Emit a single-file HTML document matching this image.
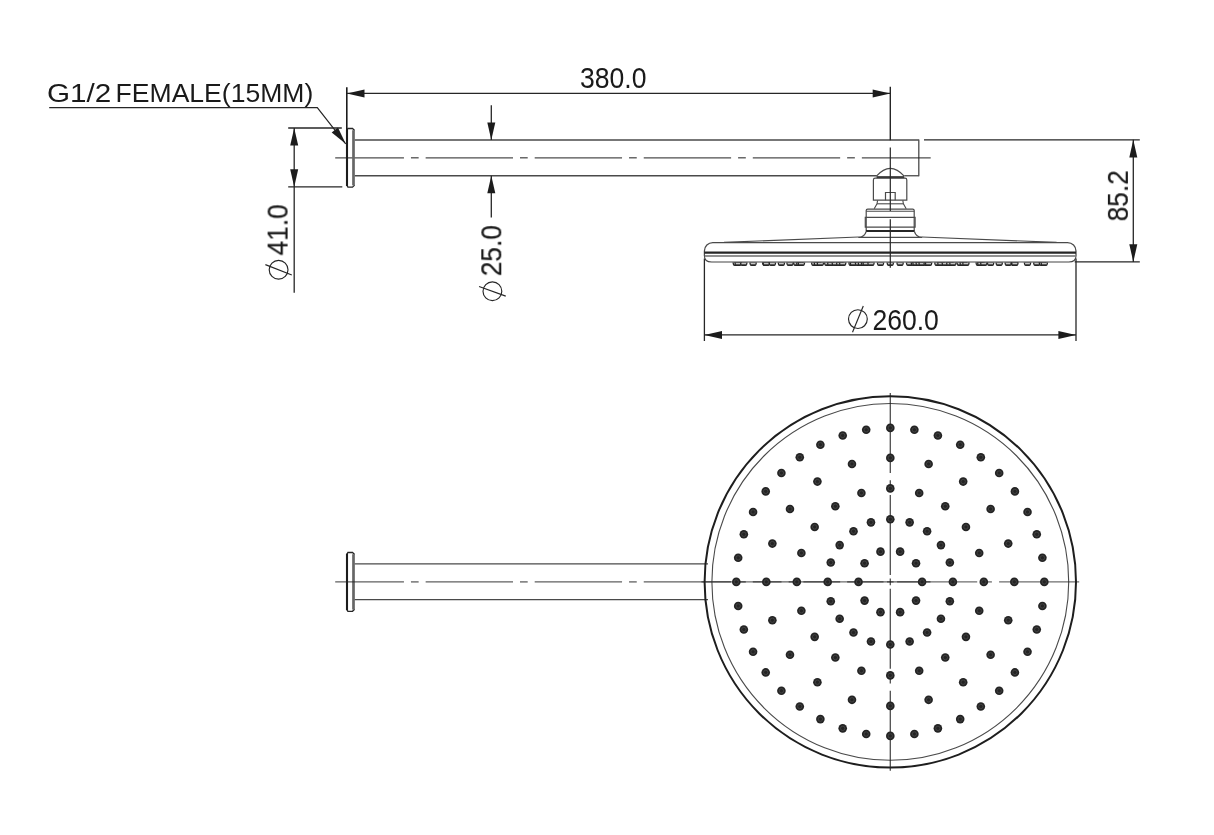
<!DOCTYPE html>
<html lang="en"><head><meta charset="utf-8"><title>Shower arm and head dimensions</title>
<style>
html,body{margin:0;padding:0;background:#fff;}
body{width:1214px;height:835px;overflow:hidden;}
svg{display:block;}
text{font-family:"Liberation Sans",sans-serif;fill:#1a1a1a;}
</style></head><body>
<svg width="1214" height="835" viewBox="0 0 1214 835">
<rect width="1214" height="835" fill="#fff"/>
<line x1="354.60" y1="140.00" x2="918.80" y2="140.00" stroke="#4a4a4a" stroke-width="1.3" />
<line x1="354.60" y1="175.75" x2="876.70" y2="175.75" stroke="#4a4a4a" stroke-width="1.3" />
<line x1="904.30" y1="175.75" x2="918.80" y2="175.75" stroke="#4a4a4a" stroke-width="1.3" />
<line x1="918.80" y1="139.40" x2="918.80" y2="176.35" stroke="#4a4a4a" stroke-width="1.3" />
<line x1="335.20" y1="157.80" x2="403.95" y2="157.80" stroke="#222" stroke-width="1.3" stroke-opacity="0.8"/>
<line x1="410.95" y1="157.80" x2="418.65" y2="157.80" stroke="#222" stroke-width="1.3" stroke-opacity="0.8"/>
<line x1="425.65" y1="157.80" x2="513.00" y2="157.80" stroke="#222" stroke-width="1.3" stroke-opacity="0.8"/>
<line x1="520.00" y1="157.80" x2="527.70" y2="157.80" stroke="#222" stroke-width="1.3" stroke-opacity="0.8"/>
<line x1="534.70" y1="157.80" x2="622.05" y2="157.80" stroke="#222" stroke-width="1.3" stroke-opacity="0.8"/>
<line x1="629.05" y1="157.80" x2="636.75" y2="157.80" stroke="#222" stroke-width="1.3" stroke-opacity="0.8"/>
<line x1="643.75" y1="157.80" x2="731.10" y2="157.80" stroke="#222" stroke-width="1.3" stroke-opacity="0.8"/>
<line x1="738.10" y1="157.80" x2="745.80" y2="157.80" stroke="#222" stroke-width="1.3" stroke-opacity="0.8"/>
<line x1="752.80" y1="157.80" x2="840.15" y2="157.80" stroke="#222" stroke-width="1.3" stroke-opacity="0.8"/>
<line x1="847.15" y1="157.80" x2="854.85" y2="157.80" stroke="#222" stroke-width="1.3" stroke-opacity="0.8"/>
<line x1="861.85" y1="157.80" x2="930.70" y2="157.80" stroke="#222" stroke-width="1.3" stroke-opacity="0.8"/>
<path d="M347.0,130.2 L347.9,128.5 H352.5 L354.6,130.5 M347.0,185.4 L347.9,187.1 H352.5 L354.6,185.1" stroke="#262626" stroke-width="1.3" fill="none" />
<line x1="347.00" y1="129.60" x2="347.00" y2="186.00" stroke="#1c1c1c" stroke-width="2.1" />
<line x1="353.50" y1="130.20" x2="353.50" y2="185.40" stroke="#666" stroke-width="2.7" />
<line x1="346.80" y1="87.20" x2="346.80" y2="130.00" stroke="#1c1c1c" stroke-width="1.6" />
<line x1="890.30" y1="86.80" x2="890.30" y2="140.20" stroke="#262626" stroke-width="1.4" />
<line x1="346.90" y1="93.40" x2="890.30" y2="93.40" stroke="#262626" stroke-width="1.35" />
<polygon points="346.90,93.40 364.50,89.40 364.50,97.40" fill="#1c1c1c"/>
<polygon points="890.30,93.40 872.70,97.40 872.70,89.40" fill="#1c1c1c"/>
<path d="M49.2,107.7 H317.3 L345.7,143.8" stroke="#262626" stroke-width="1.2" fill="none" />
<polygon points="345.70,143.80 331.67,132.44 337.96,127.49" fill="#1c1c1c"/>
<line x1="288.20" y1="128.00" x2="341.80" y2="128.00" stroke="#262626" stroke-width="1.3" />
<line x1="288.20" y1="186.90" x2="342.30" y2="186.90" stroke="#262626" stroke-width="1.3" />
<line x1="294.20" y1="128.00" x2="294.20" y2="292.80" stroke="#262626" stroke-width="1.3" />
<polygon points="294.20,128.00 298.20,145.60 290.20,145.60" fill="#1c1c1c"/>
<polygon points="294.20,186.90 290.20,169.30 298.20,169.30" fill="#1c1c1c"/>
<circle cx="278.60" cy="269.80" r="9.40" fill="none" stroke="#262626" stroke-width="1.15"/>
<line x1="265.38" y1="264.62" x2="291.82" y2="274.98" stroke="#262626" stroke-width="1.15" />
<line x1="491.30" y1="105.30" x2="491.30" y2="140.00" stroke="#262626" stroke-width="1.3" />
<line x1="491.30" y1="175.75" x2="491.30" y2="217.60" stroke="#262626" stroke-width="1.3" />
<polygon points="491.30,140.00 487.30,122.40 495.30,122.40" fill="#1c1c1c"/>
<polygon points="491.30,175.75 495.30,193.35 487.30,193.35" fill="#1c1c1c"/>
<circle cx="492.40" cy="291.30" r="9.40" fill="none" stroke="#262626" stroke-width="1.15"/>
<line x1="479.06" y1="286.44" x2="505.74" y2="296.16" stroke="#262626" stroke-width="1.15" />
<line x1="924.00" y1="139.80" x2="1139.80" y2="139.80" stroke="#262626" stroke-width="1.3" />
<line x1="1074.70" y1="261.90" x2="1139.80" y2="261.90" stroke="#262626" stroke-width="1.3" />
<line x1="1133.30" y1="139.80" x2="1133.30" y2="261.90" stroke="#262626" stroke-width="1.3" />
<polygon points="1133.30,139.80 1137.30,157.40 1129.30,157.40" fill="#1c1c1c"/>
<polygon points="1133.30,261.90 1129.30,244.30 1137.30,244.30" fill="#1c1c1c"/>
<line x1="704.40" y1="258.60" x2="704.40" y2="341.00" stroke="#262626" stroke-width="1.3" />
<line x1="1076.00" y1="258.60" x2="1076.00" y2="341.00" stroke="#262626" stroke-width="1.3" />
<line x1="704.40" y1="334.90" x2="1076.00" y2="334.90" stroke="#262626" stroke-width="1.4" />
<polygon points="704.40,334.90 722.00,330.90 722.00,338.90" fill="#1c1c1c"/>
<polygon points="1076.00,334.90 1058.40,338.90 1058.40,330.90" fill="#1c1c1c"/>
<circle cx="857.90" cy="319.10" r="9.40" fill="none" stroke="#262626" stroke-width="1.15"/>
<line x1="852.51" y1="332.24" x2="863.29" y2="305.96" stroke="#262626" stroke-width="1.15" />
<path d="M876.4,176.2 Q890.3,160.6 904.2,176.2" stroke="#4a4a4a" stroke-width="1.2" fill="none" />
<line x1="876.60" y1="177.20" x2="904.20" y2="177.20" stroke="#262626" stroke-width="2.0" />
<path d="M873.4,200.2 V180.0 Q873.4,178.2 875.2,178.2 H905.0 Q906.8,178.2 906.8,180.0 V200.2 Z" stroke="#4a4a4a" stroke-width="1.2" fill="none" />
<path d="M885.5,200.2 V192.5 H895.2 V200.2" stroke="#4a4a4a" stroke-width="1.2" fill="none" />
<path d="M877.6,200.4 L877.0,203.8 L874.2,208.8" stroke="#4a4a4a" stroke-width="1.1" fill="none" />
<path d="M902.8,200.4 L903.4,203.8 L906.2,208.8" stroke="#4a4a4a" stroke-width="1.1" fill="none" />
<line x1="877.00" y1="203.80" x2="903.40" y2="203.80" stroke="#4a4a4a" stroke-width="1.1" />
<path d="M866.2,231.0 V210.6 Q866.2,209.1 867.7,209.1 H912.7 Q914.2,209.1 914.2,210.6 V231.0" stroke="#4a4a4a" stroke-width="1.2" fill="none" />
<line x1="866.20" y1="211.20" x2="914.20" y2="211.20" stroke="#4a4a4a" stroke-width="1.1" />
<path d="M865.3,227.2 V217.4 H915.1 V227.2 Z" stroke="#4a4a4a" stroke-width="1.2" fill="none" />
<line x1="866.00" y1="231.00" x2="914.40" y2="231.00" stroke="#262626" stroke-width="2.2" />
<path d="M866.3,231.2 Q864.4,237.4 858.4,237.4" stroke="#4a4a4a" stroke-width="1.2" fill="none" />
<path d="M914.3,231.2 Q916.2,237.4 922.2,237.4" stroke="#4a4a4a" stroke-width="1.2" fill="none" />
<line x1="858.60" y1="237.40" x2="922.00" y2="237.40" stroke="#4a4a4a" stroke-width="1.1" />
<path d="M858.6,237.0 L724.0,242.4" stroke="#4a4a4a" stroke-width="1.15" fill="none" />
<path d="M922.0,237.0 L1056.6,242.4" stroke="#4a4a4a" stroke-width="1.15" fill="none" />
<path d="M704.4,256.0 V250.9 A8.4,8.4 0 0 1 712.8,242.5 H1067.6 A8.4,8.4 0 0 1 1076.0,250.9 V256.0" stroke="#4a4a4a" stroke-width="1.25" fill="none" />
<path d="M704.4,256.0 Q704.4,262.0 711.6,262.0 H1068.8 Q1076.0,262.0 1076.0,256.0" stroke="#444" stroke-width="1.1" fill="none" />
<line x1="704.40" y1="252.70" x2="1076.00" y2="252.70" stroke="#262626" stroke-width="2.2" />
<line x1="704.80" y1="256.00" x2="1075.60" y2="256.00" stroke="#6e6e6e" stroke-width="1.4" />
<path d="M732.4,262.4 L732.9,264.6 Q733.3,266.1 734.7,266.1 H737.9 Q739.3,266.1 739.7,264.6 L740.2,262.4 Z" fill="#262626"/><path d="M733.9,262.9 H738.7 V264.3 H733.9 Z" fill="#c6c6c6"/>
<path d="M734.3,262.4 L734.8,264.6 Q735.2,266.1 736.6,266.1 H739.8 Q741.2,266.1 741.6,264.6 L742.1,262.4 Z" fill="#262626"/><path d="M735.8,262.9 H740.6 V264.3 H735.8 Z" fill="#c6c6c6"/>
<path d="M739.9,262.4 L740.4,264.6 Q740.8,266.1 742.2,266.1 H745.4 Q746.8,266.1 747.2,264.6 L747.7,262.4 Z" fill="#262626"/><path d="M741.4,262.9 H746.2 V264.3 H741.4 Z" fill="#c6c6c6"/>
<path d="M749.2,262.4 L749.7,264.6 Q750.1,266.1 751.5,266.1 H754.7 Q756.1,266.1 756.5,264.6 L757.0,262.4 Z" fill="#262626"/><path d="M750.7,262.9 H755.5 V264.3 H750.7 Z" fill="#c6c6c6"/>
<path d="M761.8,262.4 L762.3,264.6 Q762.7,266.1 764.1,266.1 H767.3 Q768.7,266.1 769.1,264.6 L769.6,262.4 Z" fill="#262626"/><path d="M763.3,262.9 H768.1 V264.3 H763.3 Z" fill="#c6c6c6"/>
<path d="M762.4,262.4 L762.9,264.6 Q763.3,266.1 764.7,266.1 H767.9 Q769.3,266.1 769.7,264.6 L770.2,262.4 Z" fill="#262626"/><path d="M763.9,262.9 H768.7 V264.3 H763.9 Z" fill="#c6c6c6"/>
<path d="M768.5,262.4 L769.0,264.6 Q769.4,266.1 770.8,266.1 H774.0 Q775.4,266.1 775.8,264.6 L776.3,262.4 Z" fill="#262626"/><path d="M770.0,262.9 H774.8 V264.3 H770.0 Z" fill="#c6c6c6"/>
<path d="M777.5,262.4 L778.0,264.6 Q778.4,266.1 779.8,266.1 H783.0 Q784.4,266.1 784.8,264.6 L785.3,262.4 Z" fill="#262626"/><path d="M779.0,262.9 H783.8 V264.3 H779.0 Z" fill="#c6c6c6"/>
<path d="M786.1,262.4 L786.6,264.6 Q787.0,266.1 788.4,266.1 H791.6 Q793.0,266.1 793.4,264.6 L793.9,262.4 Z" fill="#262626"/><path d="M787.6,262.9 H792.4 V264.3 H787.6 Z" fill="#c6c6c6"/>
<path d="M792.9,262.4 L793.4,264.6 Q793.8,266.1 795.2,266.1 H798.4 Q799.8,266.1 800.2,264.6 L800.7,262.4 Z" fill="#262626"/><path d="M794.4,262.9 H799.2 V264.3 H794.4 Z" fill="#c6c6c6"/>
<path d="M795.9,262.4 L796.4,264.6 Q796.8,266.1 798.2,266.1 H801.4 Q802.8,266.1 803.2,264.6 L803.7,262.4 Z" fill="#262626"/><path d="M797.4,262.9 H802.2 V264.3 H797.4 Z" fill="#c6c6c6"/>
<path d="M797.5,262.4 L798.0,264.6 Q798.4,266.1 799.8,266.1 H803.0 Q804.4,266.1 804.8,264.6 L805.3,262.4 Z" fill="#262626"/><path d="M799.0,262.9 H803.8 V264.3 H799.0 Z" fill="#c6c6c6"/>
<path d="M810.8,262.4 L811.3,264.6 Q811.7,266.1 813.1,266.1 H816.3 Q817.7,266.1 818.1,264.6 L818.6,262.4 Z" fill="#262626"/><path d="M812.3,262.9 H817.1 V264.3 H812.3 Z" fill="#c6c6c6"/>
<path d="M813.5,262.4 L814.0,264.6 Q814.4,266.1 815.8,266.1 H819.0 Q820.4,266.1 820.8,264.6 L821.3,262.4 Z" fill="#262626"/><path d="M815.0,262.9 H819.8 V264.3 H815.0 Z" fill="#c6c6c6"/>
<path d="M816.5,262.4 L817.0,264.6 Q817.4,266.1 818.8,266.1 H822.0 Q823.4,266.1 823.8,264.6 L824.3,262.4 Z" fill="#262626"/><path d="M818.0,262.9 H822.8 V264.3 H818.0 Z" fill="#c6c6c6"/>
<path d="M823.8,262.4 L824.3,264.6 Q824.7,266.1 826.1,266.1 H829.3 Q830.7,266.1 831.1,264.6 L831.6,262.4 Z" fill="#262626"/><path d="M825.3,262.9 H830.1 V264.3 H825.3 Z" fill="#c6c6c6"/>
<path d="M826.9,262.4 L827.4,264.6 Q827.8,266.1 829.2,266.1 H832.4 Q833.8,266.1 834.2,264.6 L834.7,262.4 Z" fill="#262626"/><path d="M828.4,262.9 H833.2 V264.3 H828.4 Z" fill="#c6c6c6"/>
<path d="M831.4,262.4 L831.9,264.6 Q832.3,266.1 833.7,266.1 H836.9 Q838.3,266.1 838.7,264.6 L839.2,262.4 Z" fill="#262626"/><path d="M832.9,262.9 H837.7 V264.3 H832.9 Z" fill="#c6c6c6"/>
<path d="M835.8,262.4 L836.3,264.6 Q836.7,266.1 838.1,266.1 H841.3 Q842.7,266.1 843.1,264.6 L843.6,262.4 Z" fill="#262626"/><path d="M837.3,262.9 H842.1 V264.3 H837.3 Z" fill="#c6c6c6"/>
<path d="M838.8,262.4 L839.3,264.6 Q839.7,266.1 841.1,266.1 H844.3 Q845.7,266.1 846.1,264.6 L846.6,262.4 Z" fill="#262626"/><path d="M840.3,262.9 H845.1 V264.3 H840.3 Z" fill="#c6c6c6"/>
<path d="M848.1,262.4 L848.6,264.6 Q849.0,266.1 850.4,266.1 H853.6 Q855.0,266.1 855.4,264.6 L855.9,262.4 Z" fill="#262626"/><path d="M849.6,262.9 H854.4 V264.3 H849.6 Z" fill="#c6c6c6"/>
<path d="M849.6,262.4 L850.1,264.6 Q850.5,266.1 851.9,266.1 H855.1 Q856.5,266.1 856.9,264.6 L857.4,262.4 Z" fill="#262626"/><path d="M851.1,262.9 H855.9 V264.3 H851.1 Z" fill="#c6c6c6"/>
<path d="M854.6,262.4 L855.1,264.6 Q855.5,266.1 856.9,266.1 H860.1 Q861.5,266.1 861.9,264.6 L862.4,262.4 Z" fill="#262626"/><path d="M856.1,262.9 H860.9 V264.3 H856.1 Z" fill="#c6c6c6"/>
<path d="M857.5,262.4 L858.0,264.6 Q858.4,266.1 859.8,266.1 H863.0 Q864.4,266.1 864.8,264.6 L865.3,262.4 Z" fill="#262626"/><path d="M859.0,262.9 H863.8 V264.3 H859.0 Z" fill="#c6c6c6"/>
<path d="M860.7,262.4 L861.2,264.6 Q861.6,266.1 863.0,266.1 H866.2 Q867.6,266.1 868.0,264.6 L868.5,262.4 Z" fill="#262626"/><path d="M862.2,262.9 H867.0 V264.3 H862.2 Z" fill="#c6c6c6"/>
<path d="M862.3,262.4 L862.8,264.6 Q863.2,266.1 864.6,266.1 H867.8 Q869.2,266.1 869.6,264.6 L870.1,262.4 Z" fill="#262626"/><path d="M863.8,262.9 H868.6 V264.3 H863.8 Z" fill="#c6c6c6"/>
<path d="M867.1,262.4 L867.6,264.6 Q868.0,266.1 869.4,266.1 H872.6 Q874.0,266.1 874.4,264.6 L874.9,262.4 Z" fill="#262626"/><path d="M868.6,262.9 H873.4 V264.3 H868.6 Z" fill="#c6c6c6"/>
<path d="M876.6,262.4 L877.1,264.6 Q877.5,266.1 878.9,266.1 H882.1 Q883.5,266.1 883.9,264.6 L884.4,262.4 Z" fill="#262626"/><path d="M878.1,262.9 H882.9 V264.3 H878.1 Z" fill="#c6c6c6"/>
<path d="M886.4,262.4 L886.9,264.6 Q887.3,266.1 888.7,266.1 H891.9 Q893.3,266.1 893.7,264.6 L894.2,262.4 Z" fill="#262626"/><path d="M887.9,262.9 H892.7 V264.3 H887.9 Z" fill="#c6c6c6"/>
<path d="M896.2,262.4 L896.7,264.6 Q897.1,266.1 898.5,266.1 H901.7 Q903.1,266.1 903.5,264.6 L904.0,262.4 Z" fill="#262626"/><path d="M897.7,262.9 H902.5 V264.3 H897.7 Z" fill="#c6c6c6"/>
<path d="M905.7,262.4 L906.2,264.6 Q906.6,266.1 908.0,266.1 H911.2 Q912.6,266.1 913.0,264.6 L913.5,262.4 Z" fill="#262626"/><path d="M907.2,262.9 H912.0 V264.3 H907.2 Z" fill="#c6c6c6"/>
<path d="M910.5,262.4 L911.0,264.6 Q911.4,266.1 912.8,266.1 H916.0 Q917.4,266.1 917.8,264.6 L918.3,262.4 Z" fill="#262626"/><path d="M912.0,262.9 H916.8 V264.3 H912.0 Z" fill="#c6c6c6"/>
<path d="M912.1,262.4 L912.6,264.6 Q913.0,266.1 914.4,266.1 H917.6 Q919.0,266.1 919.4,264.6 L919.9,262.4 Z" fill="#262626"/><path d="M913.6,262.9 H918.4 V264.3 H913.6 Z" fill="#c6c6c6"/>
<path d="M915.3,262.4 L915.8,264.6 Q916.2,266.1 917.6,266.1 H920.8 Q922.2,266.1 922.6,264.6 L923.1,262.4 Z" fill="#262626"/><path d="M916.8,262.9 H921.6 V264.3 H916.8 Z" fill="#c6c6c6"/>
<path d="M918.2,262.4 L918.7,264.6 Q919.1,266.1 920.5,266.1 H923.7 Q925.1,266.1 925.5,264.6 L926.0,262.4 Z" fill="#262626"/><path d="M919.7,262.9 H924.5 V264.3 H919.7 Z" fill="#c6c6c6"/>
<path d="M923.2,262.4 L923.7,264.6 Q924.1,266.1 925.5,266.1 H928.7 Q930.1,266.1 930.5,264.6 L931.0,262.4 Z" fill="#262626"/><path d="M924.7,262.9 H929.5 V264.3 H924.7 Z" fill="#c6c6c6"/>
<path d="M924.7,262.4 L925.2,264.6 Q925.6,266.1 927.0,266.1 H930.2 Q931.6,266.1 932.0,264.6 L932.5,262.4 Z" fill="#262626"/><path d="M926.2,262.9 H931.0 V264.3 H926.2 Z" fill="#c6c6c6"/>
<path d="M934.0,262.4 L934.5,264.6 Q934.9,266.1 936.3,266.1 H939.5 Q940.9,266.1 941.3,264.6 L941.8,262.4 Z" fill="#262626"/><path d="M935.5,262.9 H940.3 V264.3 H935.5 Z" fill="#c6c6c6"/>
<path d="M937.0,262.4 L937.5,264.6 Q937.9,266.1 939.3,266.1 H942.5 Q943.9,266.1 944.3,264.6 L944.8,262.4 Z" fill="#262626"/><path d="M938.5,262.9 H943.3 V264.3 H938.5 Z" fill="#c6c6c6"/>
<path d="M941.4,262.4 L941.9,264.6 Q942.3,266.1 943.7,266.1 H946.9 Q948.3,266.1 948.7,264.6 L949.2,262.4 Z" fill="#262626"/><path d="M942.9,262.9 H947.7 V264.3 H942.9 Z" fill="#c6c6c6"/>
<path d="M945.9,262.4 L946.4,264.6 Q946.8,266.1 948.2,266.1 H951.4 Q952.8,266.1 953.2,264.6 L953.7,262.4 Z" fill="#262626"/><path d="M947.4,262.9 H952.2 V264.3 H947.4 Z" fill="#c6c6c6"/>
<path d="M949.0,262.4 L949.5,264.6 Q949.9,266.1 951.3,266.1 H954.5 Q955.9,266.1 956.3,264.6 L956.8,262.4 Z" fill="#262626"/><path d="M950.5,262.9 H955.3 V264.3 H950.5 Z" fill="#c6c6c6"/>
<path d="M956.3,262.4 L956.8,264.6 Q957.2,266.1 958.6,266.1 H961.8 Q963.2,266.1 963.6,264.6 L964.1,262.4 Z" fill="#262626"/><path d="M957.8,262.9 H962.6 V264.3 H957.8 Z" fill="#c6c6c6"/>
<path d="M959.3,262.4 L959.8,264.6 Q960.2,266.1 961.6,266.1 H964.8 Q966.2,266.1 966.6,264.6 L967.1,262.4 Z" fill="#262626"/><path d="M960.8,262.9 H965.6 V264.3 H960.8 Z" fill="#c6c6c6"/>
<path d="M962.0,262.4 L962.5,264.6 Q962.9,266.1 964.3,266.1 H967.5 Q968.9,266.1 969.3,264.6 L969.8,262.4 Z" fill="#262626"/><path d="M963.5,262.9 H968.3 V264.3 H963.5 Z" fill="#c6c6c6"/>
<path d="M975.3,262.4 L975.8,264.6 Q976.2,266.1 977.6,266.1 H980.8 Q982.2,266.1 982.6,264.6 L983.1,262.4 Z" fill="#262626"/><path d="M976.8,262.9 H981.6 V264.3 H976.8 Z" fill="#c6c6c6"/>
<path d="M976.9,262.4 L977.4,264.6 Q977.8,266.1 979.2,266.1 H982.4 Q983.8,266.1 984.2,264.6 L984.7,262.4 Z" fill="#262626"/><path d="M978.4,262.9 H983.2 V264.3 H978.4 Z" fill="#c6c6c6"/>
<path d="M979.9,262.4 L980.4,264.6 Q980.8,266.1 982.2,266.1 H985.4 Q986.8,266.1 987.2,264.6 L987.7,262.4 Z" fill="#262626"/><path d="M981.4,262.9 H986.2 V264.3 H981.4 Z" fill="#c6c6c6"/>
<path d="M986.7,262.4 L987.2,264.6 Q987.6,266.1 989.0,266.1 H992.2 Q993.6,266.1 994.0,264.6 L994.5,262.4 Z" fill="#262626"/><path d="M988.2,262.9 H993.0 V264.3 H988.2 Z" fill="#c6c6c6"/>
<path d="M995.3,262.4 L995.8,264.6 Q996.2,266.1 997.6,266.1 H1000.8 Q1002.2,266.1 1002.6,264.6 L1003.1,262.4 Z" fill="#262626"/><path d="M996.8,262.9 H1001.6 V264.3 H996.8 Z" fill="#c6c6c6"/>
<path d="M1004.3,262.4 L1004.8,264.6 Q1005.2,266.1 1006.6,266.1 H1009.8 Q1011.2,266.1 1011.6,264.6 L1012.1,262.4 Z" fill="#262626"/><path d="M1005.8,262.9 H1010.6 V264.3 H1005.8 Z" fill="#c6c6c6"/>
<path d="M1010.4,262.4 L1010.9,264.6 Q1011.3,266.1 1012.7,266.1 H1015.9 Q1017.3,266.1 1017.7,264.6 L1018.2,262.4 Z" fill="#262626"/><path d="M1011.9,262.9 H1016.7 V264.3 H1011.9 Z" fill="#c6c6c6"/>
<path d="M1011.0,262.4 L1011.5,264.6 Q1011.9,266.1 1013.3,266.1 H1016.5 Q1017.9,266.1 1018.3,264.6 L1018.8,262.4 Z" fill="#262626"/><path d="M1012.5,262.9 H1017.3 V264.3 H1012.5 Z" fill="#c6c6c6"/>
<path d="M1023.6,262.4 L1024.1,264.6 Q1024.5,266.1 1025.9,266.1 H1029.1 Q1030.5,266.1 1030.9,264.6 L1031.4,262.4 Z" fill="#262626"/><path d="M1025.1,262.9 H1029.9 V264.3 H1025.1 Z" fill="#c6c6c6"/>
<path d="M1032.9,262.4 L1033.4,264.6 Q1033.8,266.1 1035.2,266.1 H1038.4 Q1039.8,266.1 1040.2,264.6 L1040.7,262.4 Z" fill="#262626"/><path d="M1034.4,262.9 H1039.2 V264.3 H1034.4 Z" fill="#c6c6c6"/>
<path d="M1038.5,262.4 L1039.0,264.6 Q1039.4,266.1 1040.8,266.1 H1044.0 Q1045.4,266.1 1045.8,264.6 L1046.3,262.4 Z" fill="#262626"/><path d="M1040.0,262.9 H1044.8 V264.3 H1040.0 Z" fill="#c6c6c6"/>
<path d="M1040.4,262.4 L1040.9,264.6 Q1041.3,266.1 1042.7,266.1 H1045.9 Q1047.3,266.1 1047.7,264.6 L1048.2,262.4 Z" fill="#262626"/><path d="M1041.9,262.9 H1046.7 V264.3 H1041.9 Z" fill="#c6c6c6"/>
<line x1="890.30" y1="147.40" x2="890.30" y2="211.00" stroke="#262626" stroke-width="1.2" />
<line x1="890.30" y1="219.30" x2="890.30" y2="267.80" stroke="#262626" stroke-width="1.2" />
<line x1="354.40" y1="563.80" x2="708.00" y2="563.80" stroke="#4a4a4a" stroke-width="1.25" />
<line x1="354.40" y1="599.70" x2="708.00" y2="599.70" stroke="#4a4a4a" stroke-width="1.25" />
<path d="M347.0,554.2 L347.9,552.5 H352.5 L354.6,554.5 M347.0,609.6 L347.9,611.3 H352.5 L354.6,609.3" stroke="#262626" stroke-width="1.3" fill="none" />
<line x1="347.00" y1="553.60" x2="347.00" y2="610.20" stroke="#1c1c1c" stroke-width="2.1" />
<line x1="353.50" y1="554.20" x2="353.50" y2="609.60" stroke="#666" stroke-width="2.7" />
<line x1="335.20" y1="581.90" x2="403.95" y2="581.90" stroke="#222" stroke-width="1.3" stroke-opacity="0.72"/>
<line x1="410.95" y1="581.90" x2="418.65" y2="581.90" stroke="#222" stroke-width="1.3" stroke-opacity="0.72"/>
<line x1="425.65" y1="581.90" x2="513.00" y2="581.90" stroke="#222" stroke-width="1.3" stroke-opacity="0.72"/>
<line x1="520.00" y1="581.90" x2="527.70" y2="581.90" stroke="#222" stroke-width="1.3" stroke-opacity="0.72"/>
<line x1="534.70" y1="581.90" x2="622.05" y2="581.90" stroke="#222" stroke-width="1.3" stroke-opacity="0.72"/>
<line x1="629.05" y1="581.90" x2="636.75" y2="581.90" stroke="#222" stroke-width="1.3" stroke-opacity="0.72"/>
<line x1="643.75" y1="581.90" x2="731.10" y2="581.90" stroke="#222" stroke-width="1.3" stroke-opacity="0.72"/>
<line x1="738.10" y1="581.90" x2="745.80" y2="581.90" stroke="#222" stroke-width="1.3" stroke-opacity="0.72"/>
<line x1="752.80" y1="581.90" x2="840.15" y2="581.90" stroke="#222" stroke-width="1.3" stroke-opacity="0.72"/>
<line x1="847.15" y1="581.90" x2="854.85" y2="581.90" stroke="#222" stroke-width="1.3" stroke-opacity="0.72"/>
<line x1="861.85" y1="581.90" x2="930.50" y2="581.90" stroke="#222" stroke-width="1.3" stroke-opacity="0.72"/>
<circle cx="890.3" cy="581.9" r="185.7" fill="none" stroke="#1e1e1e" stroke-width="2.0"/>
<circle cx="890.3" cy="581.9" r="178.4" fill="none" stroke="#4a4a4a" stroke-width="1.1"/>
<line x1="701.40" y1="581.90" x2="781.50" y2="581.90" stroke="#222" stroke-width="1.3" stroke-opacity="0.66"/>
<line x1="890.30" y1="393.00" x2="890.30" y2="473.10" stroke="#222" stroke-width="1.3" stroke-opacity="0.8"/>
<line x1="788.70" y1="581.90" x2="796.30" y2="581.90" stroke="#222" stroke-width="1.3" stroke-opacity="0.66"/>
<line x1="890.30" y1="480.30" x2="890.30" y2="487.90" stroke="#222" stroke-width="1.3" stroke-opacity="0.8"/>
<line x1="803.40" y1="581.90" x2="883.50" y2="581.90" stroke="#222" stroke-width="1.3" stroke-opacity="0.66"/>
<line x1="890.30" y1="495.00" x2="890.30" y2="575.10" stroke="#222" stroke-width="1.3" stroke-opacity="0.8"/>
<line x1="887.00" y1="581.90" x2="893.60" y2="581.90" stroke="#222" stroke-width="1.3" stroke-opacity="0.66"/>
<line x1="890.30" y1="578.60" x2="890.30" y2="585.20" stroke="#222" stroke-width="1.3" stroke-opacity="0.8"/>
<line x1="897.10" y1="581.90" x2="977.20" y2="581.90" stroke="#222" stroke-width="1.3" stroke-opacity="0.66"/>
<line x1="890.30" y1="588.70" x2="890.30" y2="668.80" stroke="#222" stroke-width="1.3" stroke-opacity="0.8"/>
<line x1="984.30" y1="581.90" x2="991.90" y2="581.90" stroke="#222" stroke-width="1.3" stroke-opacity="0.66"/>
<line x1="890.30" y1="675.90" x2="890.30" y2="683.50" stroke="#222" stroke-width="1.3" stroke-opacity="0.8"/>
<line x1="999.10" y1="581.90" x2="1079.20" y2="581.90" stroke="#222" stroke-width="1.3" stroke-opacity="0.66"/>
<line x1="890.30" y1="690.70" x2="890.30" y2="770.80" stroke="#222" stroke-width="1.3" stroke-opacity="0.8"/>
<circle cx="890.30" cy="427.90" r="4.3" fill="#242424"/>
<circle cx="890.30" cy="427.90" r="2.2" fill="none" stroke="#4e4e4e" stroke-width="0.7"/>
<circle cx="914.39" cy="429.80" r="4.3" fill="#242424"/>
<circle cx="914.39" cy="429.80" r="2.2" fill="none" stroke="#4e4e4e" stroke-width="0.7"/>
<circle cx="937.89" cy="435.44" r="4.3" fill="#242424"/>
<circle cx="937.89" cy="435.44" r="2.2" fill="none" stroke="#4e4e4e" stroke-width="0.7"/>
<circle cx="960.21" cy="444.68" r="4.3" fill="#242424"/>
<circle cx="960.21" cy="444.68" r="2.2" fill="none" stroke="#4e4e4e" stroke-width="0.7"/>
<circle cx="980.82" cy="457.31" r="4.3" fill="#242424"/>
<circle cx="980.82" cy="457.31" r="2.2" fill="none" stroke="#4e4e4e" stroke-width="0.7"/>
<circle cx="999.19" cy="473.01" r="4.3" fill="#242424"/>
<circle cx="999.19" cy="473.01" r="2.2" fill="none" stroke="#4e4e4e" stroke-width="0.7"/>
<circle cx="1014.89" cy="491.38" r="4.3" fill="#242424"/>
<circle cx="1014.89" cy="491.38" r="2.2" fill="none" stroke="#4e4e4e" stroke-width="0.7"/>
<circle cx="1027.52" cy="511.99" r="4.3" fill="#242424"/>
<circle cx="1027.52" cy="511.99" r="2.2" fill="none" stroke="#4e4e4e" stroke-width="0.7"/>
<circle cx="1036.76" cy="534.31" r="4.3" fill="#242424"/>
<circle cx="1036.76" cy="534.31" r="2.2" fill="none" stroke="#4e4e4e" stroke-width="0.7"/>
<circle cx="1042.40" cy="557.81" r="4.3" fill="#242424"/>
<circle cx="1042.40" cy="557.81" r="2.2" fill="none" stroke="#4e4e4e" stroke-width="0.7"/>
<circle cx="1044.30" cy="581.90" r="4.3" fill="#242424"/>
<circle cx="1044.30" cy="581.90" r="2.2" fill="none" stroke="#4e4e4e" stroke-width="0.7"/>
<circle cx="1042.40" cy="605.99" r="4.3" fill="#242424"/>
<circle cx="1042.40" cy="605.99" r="2.2" fill="none" stroke="#4e4e4e" stroke-width="0.7"/>
<circle cx="1036.76" cy="629.49" r="4.3" fill="#242424"/>
<circle cx="1036.76" cy="629.49" r="2.2" fill="none" stroke="#4e4e4e" stroke-width="0.7"/>
<circle cx="1027.52" cy="651.81" r="4.3" fill="#242424"/>
<circle cx="1027.52" cy="651.81" r="2.2" fill="none" stroke="#4e4e4e" stroke-width="0.7"/>
<circle cx="1014.89" cy="672.42" r="4.3" fill="#242424"/>
<circle cx="1014.89" cy="672.42" r="2.2" fill="none" stroke="#4e4e4e" stroke-width="0.7"/>
<circle cx="999.19" cy="690.79" r="4.3" fill="#242424"/>
<circle cx="999.19" cy="690.79" r="2.2" fill="none" stroke="#4e4e4e" stroke-width="0.7"/>
<circle cx="980.82" cy="706.49" r="4.3" fill="#242424"/>
<circle cx="980.82" cy="706.49" r="2.2" fill="none" stroke="#4e4e4e" stroke-width="0.7"/>
<circle cx="960.21" cy="719.12" r="4.3" fill="#242424"/>
<circle cx="960.21" cy="719.12" r="2.2" fill="none" stroke="#4e4e4e" stroke-width="0.7"/>
<circle cx="937.89" cy="728.36" r="4.3" fill="#242424"/>
<circle cx="937.89" cy="728.36" r="2.2" fill="none" stroke="#4e4e4e" stroke-width="0.7"/>
<circle cx="914.39" cy="734.00" r="4.3" fill="#242424"/>
<circle cx="914.39" cy="734.00" r="2.2" fill="none" stroke="#4e4e4e" stroke-width="0.7"/>
<circle cx="890.30" cy="735.90" r="4.3" fill="#242424"/>
<circle cx="890.30" cy="735.90" r="2.2" fill="none" stroke="#4e4e4e" stroke-width="0.7"/>
<circle cx="866.21" cy="734.00" r="4.3" fill="#242424"/>
<circle cx="866.21" cy="734.00" r="2.2" fill="none" stroke="#4e4e4e" stroke-width="0.7"/>
<circle cx="842.71" cy="728.36" r="4.3" fill="#242424"/>
<circle cx="842.71" cy="728.36" r="2.2" fill="none" stroke="#4e4e4e" stroke-width="0.7"/>
<circle cx="820.39" cy="719.12" r="4.3" fill="#242424"/>
<circle cx="820.39" cy="719.12" r="2.2" fill="none" stroke="#4e4e4e" stroke-width="0.7"/>
<circle cx="799.78" cy="706.49" r="4.3" fill="#242424"/>
<circle cx="799.78" cy="706.49" r="2.2" fill="none" stroke="#4e4e4e" stroke-width="0.7"/>
<circle cx="781.41" cy="690.79" r="4.3" fill="#242424"/>
<circle cx="781.41" cy="690.79" r="2.2" fill="none" stroke="#4e4e4e" stroke-width="0.7"/>
<circle cx="765.71" cy="672.42" r="4.3" fill="#242424"/>
<circle cx="765.71" cy="672.42" r="2.2" fill="none" stroke="#4e4e4e" stroke-width="0.7"/>
<circle cx="753.08" cy="651.81" r="4.3" fill="#242424"/>
<circle cx="753.08" cy="651.81" r="2.2" fill="none" stroke="#4e4e4e" stroke-width="0.7"/>
<circle cx="743.84" cy="629.49" r="4.3" fill="#242424"/>
<circle cx="743.84" cy="629.49" r="2.2" fill="none" stroke="#4e4e4e" stroke-width="0.7"/>
<circle cx="738.20" cy="605.99" r="4.3" fill="#242424"/>
<circle cx="738.20" cy="605.99" r="2.2" fill="none" stroke="#4e4e4e" stroke-width="0.7"/>
<circle cx="736.30" cy="581.90" r="4.3" fill="#242424"/>
<circle cx="736.30" cy="581.90" r="2.2" fill="none" stroke="#4e4e4e" stroke-width="0.7"/>
<circle cx="738.20" cy="557.81" r="4.3" fill="#242424"/>
<circle cx="738.20" cy="557.81" r="2.2" fill="none" stroke="#4e4e4e" stroke-width="0.7"/>
<circle cx="743.84" cy="534.31" r="4.3" fill="#242424"/>
<circle cx="743.84" cy="534.31" r="2.2" fill="none" stroke="#4e4e4e" stroke-width="0.7"/>
<circle cx="753.08" cy="511.99" r="4.3" fill="#242424"/>
<circle cx="753.08" cy="511.99" r="2.2" fill="none" stroke="#4e4e4e" stroke-width="0.7"/>
<circle cx="765.71" cy="491.38" r="4.3" fill="#242424"/>
<circle cx="765.71" cy="491.38" r="2.2" fill="none" stroke="#4e4e4e" stroke-width="0.7"/>
<circle cx="781.41" cy="473.01" r="4.3" fill="#242424"/>
<circle cx="781.41" cy="473.01" r="2.2" fill="none" stroke="#4e4e4e" stroke-width="0.7"/>
<circle cx="799.78" cy="457.31" r="4.3" fill="#242424"/>
<circle cx="799.78" cy="457.31" r="2.2" fill="none" stroke="#4e4e4e" stroke-width="0.7"/>
<circle cx="820.39" cy="444.68" r="4.3" fill="#242424"/>
<circle cx="820.39" cy="444.68" r="2.2" fill="none" stroke="#4e4e4e" stroke-width="0.7"/>
<circle cx="842.71" cy="435.44" r="4.3" fill="#242424"/>
<circle cx="842.71" cy="435.44" r="2.2" fill="none" stroke="#4e4e4e" stroke-width="0.7"/>
<circle cx="866.21" cy="429.80" r="4.3" fill="#242424"/>
<circle cx="866.21" cy="429.80" r="2.2" fill="none" stroke="#4e4e4e" stroke-width="0.7"/>
<circle cx="890.30" cy="519.30" r="4.3" fill="#242424"/>
<circle cx="890.30" cy="519.30" r="2.2" fill="none" stroke="#4e4e4e" stroke-width="0.7"/>
<circle cx="909.64" cy="522.36" r="4.3" fill="#242424"/>
<circle cx="909.64" cy="522.36" r="2.2" fill="none" stroke="#4e4e4e" stroke-width="0.7"/>
<circle cx="927.10" cy="531.26" r="4.3" fill="#242424"/>
<circle cx="927.10" cy="531.26" r="2.2" fill="none" stroke="#4e4e4e" stroke-width="0.7"/>
<circle cx="940.94" cy="545.10" r="4.3" fill="#242424"/>
<circle cx="940.94" cy="545.10" r="2.2" fill="none" stroke="#4e4e4e" stroke-width="0.7"/>
<circle cx="949.84" cy="562.56" r="4.3" fill="#242424"/>
<circle cx="949.84" cy="562.56" r="2.2" fill="none" stroke="#4e4e4e" stroke-width="0.7"/>
<circle cx="952.90" cy="581.90" r="4.3" fill="#242424"/>
<circle cx="952.90" cy="581.90" r="2.2" fill="none" stroke="#4e4e4e" stroke-width="0.7"/>
<circle cx="949.84" cy="601.24" r="4.3" fill="#242424"/>
<circle cx="949.84" cy="601.24" r="2.2" fill="none" stroke="#4e4e4e" stroke-width="0.7"/>
<circle cx="940.94" cy="618.70" r="4.3" fill="#242424"/>
<circle cx="940.94" cy="618.70" r="2.2" fill="none" stroke="#4e4e4e" stroke-width="0.7"/>
<circle cx="927.10" cy="632.54" r="4.3" fill="#242424"/>
<circle cx="927.10" cy="632.54" r="2.2" fill="none" stroke="#4e4e4e" stroke-width="0.7"/>
<circle cx="909.64" cy="641.44" r="4.3" fill="#242424"/>
<circle cx="909.64" cy="641.44" r="2.2" fill="none" stroke="#4e4e4e" stroke-width="0.7"/>
<circle cx="890.30" cy="644.50" r="4.3" fill="#242424"/>
<circle cx="890.30" cy="644.50" r="2.2" fill="none" stroke="#4e4e4e" stroke-width="0.7"/>
<circle cx="870.96" cy="641.44" r="4.3" fill="#242424"/>
<circle cx="870.96" cy="641.44" r="2.2" fill="none" stroke="#4e4e4e" stroke-width="0.7"/>
<circle cx="853.50" cy="632.54" r="4.3" fill="#242424"/>
<circle cx="853.50" cy="632.54" r="2.2" fill="none" stroke="#4e4e4e" stroke-width="0.7"/>
<circle cx="839.66" cy="618.70" r="4.3" fill="#242424"/>
<circle cx="839.66" cy="618.70" r="2.2" fill="none" stroke="#4e4e4e" stroke-width="0.7"/>
<circle cx="830.76" cy="601.24" r="4.3" fill="#242424"/>
<circle cx="830.76" cy="601.24" r="2.2" fill="none" stroke="#4e4e4e" stroke-width="0.7"/>
<circle cx="827.70" cy="581.90" r="4.3" fill="#242424"/>
<circle cx="827.70" cy="581.90" r="2.2" fill="none" stroke="#4e4e4e" stroke-width="0.7"/>
<circle cx="830.76" cy="562.56" r="4.3" fill="#242424"/>
<circle cx="830.76" cy="562.56" r="2.2" fill="none" stroke="#4e4e4e" stroke-width="0.7"/>
<circle cx="839.66" cy="545.10" r="4.3" fill="#242424"/>
<circle cx="839.66" cy="545.10" r="2.2" fill="none" stroke="#4e4e4e" stroke-width="0.7"/>
<circle cx="853.50" cy="531.26" r="4.3" fill="#242424"/>
<circle cx="853.50" cy="531.26" r="2.2" fill="none" stroke="#4e4e4e" stroke-width="0.7"/>
<circle cx="870.96" cy="522.36" r="4.3" fill="#242424"/>
<circle cx="870.96" cy="522.36" r="2.2" fill="none" stroke="#4e4e4e" stroke-width="0.7"/>
<circle cx="890.30" cy="488.40" r="4.3" fill="#242424"/>
<circle cx="890.30" cy="488.40" r="2.2" fill="none" stroke="#4e4e4e" stroke-width="0.7"/>
<circle cx="919.19" cy="492.98" r="4.3" fill="#242424"/>
<circle cx="919.19" cy="492.98" r="2.2" fill="none" stroke="#4e4e4e" stroke-width="0.7"/>
<circle cx="945.26" cy="506.26" r="4.3" fill="#242424"/>
<circle cx="945.26" cy="506.26" r="2.2" fill="none" stroke="#4e4e4e" stroke-width="0.7"/>
<circle cx="965.94" cy="526.94" r="4.3" fill="#242424"/>
<circle cx="965.94" cy="526.94" r="2.2" fill="none" stroke="#4e4e4e" stroke-width="0.7"/>
<circle cx="979.22" cy="553.01" r="4.3" fill="#242424"/>
<circle cx="979.22" cy="553.01" r="2.2" fill="none" stroke="#4e4e4e" stroke-width="0.7"/>
<circle cx="983.80" cy="581.90" r="4.3" fill="#242424"/>
<circle cx="983.80" cy="581.90" r="2.2" fill="none" stroke="#4e4e4e" stroke-width="0.7"/>
<circle cx="979.22" cy="610.79" r="4.3" fill="#242424"/>
<circle cx="979.22" cy="610.79" r="2.2" fill="none" stroke="#4e4e4e" stroke-width="0.7"/>
<circle cx="965.94" cy="636.86" r="4.3" fill="#242424"/>
<circle cx="965.94" cy="636.86" r="2.2" fill="none" stroke="#4e4e4e" stroke-width="0.7"/>
<circle cx="945.26" cy="657.54" r="4.3" fill="#242424"/>
<circle cx="945.26" cy="657.54" r="2.2" fill="none" stroke="#4e4e4e" stroke-width="0.7"/>
<circle cx="919.19" cy="670.82" r="4.3" fill="#242424"/>
<circle cx="919.19" cy="670.82" r="2.2" fill="none" stroke="#4e4e4e" stroke-width="0.7"/>
<circle cx="890.30" cy="675.40" r="4.3" fill="#242424"/>
<circle cx="890.30" cy="675.40" r="2.2" fill="none" stroke="#4e4e4e" stroke-width="0.7"/>
<circle cx="861.41" cy="670.82" r="4.3" fill="#242424"/>
<circle cx="861.41" cy="670.82" r="2.2" fill="none" stroke="#4e4e4e" stroke-width="0.7"/>
<circle cx="835.34" cy="657.54" r="4.3" fill="#242424"/>
<circle cx="835.34" cy="657.54" r="2.2" fill="none" stroke="#4e4e4e" stroke-width="0.7"/>
<circle cx="814.66" cy="636.86" r="4.3" fill="#242424"/>
<circle cx="814.66" cy="636.86" r="2.2" fill="none" stroke="#4e4e4e" stroke-width="0.7"/>
<circle cx="801.38" cy="610.79" r="4.3" fill="#242424"/>
<circle cx="801.38" cy="610.79" r="2.2" fill="none" stroke="#4e4e4e" stroke-width="0.7"/>
<circle cx="796.80" cy="581.90" r="4.3" fill="#242424"/>
<circle cx="796.80" cy="581.90" r="2.2" fill="none" stroke="#4e4e4e" stroke-width="0.7"/>
<circle cx="801.38" cy="553.01" r="4.3" fill="#242424"/>
<circle cx="801.38" cy="553.01" r="2.2" fill="none" stroke="#4e4e4e" stroke-width="0.7"/>
<circle cx="814.66" cy="526.94" r="4.3" fill="#242424"/>
<circle cx="814.66" cy="526.94" r="2.2" fill="none" stroke="#4e4e4e" stroke-width="0.7"/>
<circle cx="835.34" cy="506.26" r="4.3" fill="#242424"/>
<circle cx="835.34" cy="506.26" r="2.2" fill="none" stroke="#4e4e4e" stroke-width="0.7"/>
<circle cx="861.41" cy="492.98" r="4.3" fill="#242424"/>
<circle cx="861.41" cy="492.98" r="2.2" fill="none" stroke="#4e4e4e" stroke-width="0.7"/>
<circle cx="890.30" cy="457.90" r="4.3" fill="#242424"/>
<circle cx="890.30" cy="457.90" r="2.2" fill="none" stroke="#4e4e4e" stroke-width="0.7"/>
<circle cx="928.62" cy="463.97" r="4.3" fill="#242424"/>
<circle cx="928.62" cy="463.97" r="2.2" fill="none" stroke="#4e4e4e" stroke-width="0.7"/>
<circle cx="963.19" cy="481.58" r="4.3" fill="#242424"/>
<circle cx="963.19" cy="481.58" r="2.2" fill="none" stroke="#4e4e4e" stroke-width="0.7"/>
<circle cx="990.62" cy="509.01" r="4.3" fill="#242424"/>
<circle cx="990.62" cy="509.01" r="2.2" fill="none" stroke="#4e4e4e" stroke-width="0.7"/>
<circle cx="1008.23" cy="543.58" r="4.3" fill="#242424"/>
<circle cx="1008.23" cy="543.58" r="2.2" fill="none" stroke="#4e4e4e" stroke-width="0.7"/>
<circle cx="1014.30" cy="581.90" r="4.3" fill="#242424"/>
<circle cx="1014.30" cy="581.90" r="2.2" fill="none" stroke="#4e4e4e" stroke-width="0.7"/>
<circle cx="1008.23" cy="620.22" r="4.3" fill="#242424"/>
<circle cx="1008.23" cy="620.22" r="2.2" fill="none" stroke="#4e4e4e" stroke-width="0.7"/>
<circle cx="990.62" cy="654.79" r="4.3" fill="#242424"/>
<circle cx="990.62" cy="654.79" r="2.2" fill="none" stroke="#4e4e4e" stroke-width="0.7"/>
<circle cx="963.19" cy="682.22" r="4.3" fill="#242424"/>
<circle cx="963.19" cy="682.22" r="2.2" fill="none" stroke="#4e4e4e" stroke-width="0.7"/>
<circle cx="928.62" cy="699.83" r="4.3" fill="#242424"/>
<circle cx="928.62" cy="699.83" r="2.2" fill="none" stroke="#4e4e4e" stroke-width="0.7"/>
<circle cx="890.30" cy="705.90" r="4.3" fill="#242424"/>
<circle cx="890.30" cy="705.90" r="2.2" fill="none" stroke="#4e4e4e" stroke-width="0.7"/>
<circle cx="851.98" cy="699.83" r="4.3" fill="#242424"/>
<circle cx="851.98" cy="699.83" r="2.2" fill="none" stroke="#4e4e4e" stroke-width="0.7"/>
<circle cx="817.41" cy="682.22" r="4.3" fill="#242424"/>
<circle cx="817.41" cy="682.22" r="2.2" fill="none" stroke="#4e4e4e" stroke-width="0.7"/>
<circle cx="789.98" cy="654.79" r="4.3" fill="#242424"/>
<circle cx="789.98" cy="654.79" r="2.2" fill="none" stroke="#4e4e4e" stroke-width="0.7"/>
<circle cx="772.37" cy="620.22" r="4.3" fill="#242424"/>
<circle cx="772.37" cy="620.22" r="2.2" fill="none" stroke="#4e4e4e" stroke-width="0.7"/>
<circle cx="766.30" cy="581.90" r="4.3" fill="#242424"/>
<circle cx="766.30" cy="581.90" r="2.2" fill="none" stroke="#4e4e4e" stroke-width="0.7"/>
<circle cx="772.37" cy="543.58" r="4.3" fill="#242424"/>
<circle cx="772.37" cy="543.58" r="2.2" fill="none" stroke="#4e4e4e" stroke-width="0.7"/>
<circle cx="789.98" cy="509.01" r="4.3" fill="#242424"/>
<circle cx="789.98" cy="509.01" r="2.2" fill="none" stroke="#4e4e4e" stroke-width="0.7"/>
<circle cx="817.41" cy="481.58" r="4.3" fill="#242424"/>
<circle cx="817.41" cy="481.58" r="2.2" fill="none" stroke="#4e4e4e" stroke-width="0.7"/>
<circle cx="851.98" cy="463.97" r="4.3" fill="#242424"/>
<circle cx="851.98" cy="463.97" r="2.2" fill="none" stroke="#4e4e4e" stroke-width="0.7"/>
<circle cx="900.13" cy="551.66" r="4.3" fill="#242424"/>
<circle cx="900.13" cy="551.66" r="2.2" fill="none" stroke="#4e4e4e" stroke-width="0.7"/>
<circle cx="916.03" cy="563.21" r="4.3" fill="#242424"/>
<circle cx="916.03" cy="563.21" r="2.2" fill="none" stroke="#4e4e4e" stroke-width="0.7"/>
<circle cx="922.10" cy="581.90" r="4.3" fill="#242424"/>
<circle cx="922.10" cy="581.90" r="2.2" fill="none" stroke="#4e4e4e" stroke-width="0.7"/>
<circle cx="916.03" cy="600.59" r="4.3" fill="#242424"/>
<circle cx="916.03" cy="600.59" r="2.2" fill="none" stroke="#4e4e4e" stroke-width="0.7"/>
<circle cx="900.13" cy="612.14" r="4.3" fill="#242424"/>
<circle cx="900.13" cy="612.14" r="2.2" fill="none" stroke="#4e4e4e" stroke-width="0.7"/>
<circle cx="880.47" cy="612.14" r="4.3" fill="#242424"/>
<circle cx="880.47" cy="612.14" r="2.2" fill="none" stroke="#4e4e4e" stroke-width="0.7"/>
<circle cx="864.57" cy="600.59" r="4.3" fill="#242424"/>
<circle cx="864.57" cy="600.59" r="2.2" fill="none" stroke="#4e4e4e" stroke-width="0.7"/>
<circle cx="858.50" cy="581.90" r="4.3" fill="#242424"/>
<circle cx="858.50" cy="581.90" r="2.2" fill="none" stroke="#4e4e4e" stroke-width="0.7"/>
<circle cx="864.57" cy="563.21" r="4.3" fill="#242424"/>
<circle cx="864.57" cy="563.21" r="2.2" fill="none" stroke="#4e4e4e" stroke-width="0.7"/>
<circle cx="880.47" cy="551.66" r="4.3" fill="#242424"/>
<circle cx="880.47" cy="551.66" r="2.2" fill="none" stroke="#4e4e4e" stroke-width="0.7"/>
<g opacity="0.999">
<text x="580.00" y="88.20" font-size="29.5" textLength="66.5" lengthAdjust="spacingAndGlyphs">380.0</text>
<text y="101.6" font-size="26.6"><tspan x="47.0" textLength="64.3" lengthAdjust="spacingAndGlyphs">G1/2</tspan> <tspan x="115.6" textLength="197.7" lengthAdjust="spacingAndGlyphs">FEMALE(15MM)</tspan></text>
<text transform="translate(287.60,255.40) rotate(-90)" font-size="29.5" textLength="51" lengthAdjust="spacingAndGlyphs" stroke="#1a1a1a" stroke-width="0.18">41.0</text>
<text transform="translate(501.30,276.20) rotate(-90)" font-size="29.5" textLength="51" lengthAdjust="spacingAndGlyphs" stroke="#1a1a1a" stroke-width="0.18">25.0</text>
<text transform="translate(1127.90,221.30) rotate(-90)" font-size="29.5" textLength="51" lengthAdjust="spacingAndGlyphs" stroke="#1a1a1a" stroke-width="0.18">85.2</text>
<text x="872.40" y="329.80" font-size="29.5" textLength="66.5" lengthAdjust="spacingAndGlyphs">260.0</text>
</g>
</svg>
</body></html>
